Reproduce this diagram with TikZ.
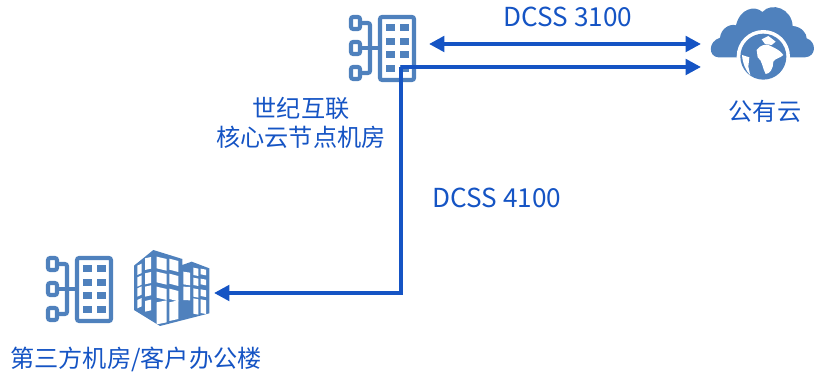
\documentclass[tikz,border=0pt]{standalone}
\usepackage{fontspec}
\usetikzlibrary{arrows.meta}
\setmainfont{Noto Sans CJK SC}
\definecolor{iconblue}{RGB}{79,129,189}
\definecolor{linkblue}{RGB}{21,84,196}
\newcommand{\winbox}[5]{\fill[white] (#1,#3) -- (#2,#3+#5) -- (#2,#4+#5) -- (#1,#4) -- cycle;}
\tikzset{
	lbl/.style={text=linkblue,font=\fontsize{17.2}{21}\selectfont,align=center,inner sep=0pt},
	lbllat/.style={lbl,font=\fontsize{18.6}{21}\selectfont},
	tip/.tip={Triangle[length=11pt,width=11pt]},
	link/.style={draw=linkblue,line width=2.7pt},
	rackline/.style={draw=iconblue,line width=2.9pt,rounded corners=1.5pt},
	pics/rack/.style={code={
		\draw[rackline] (31,2) rectangle (65,65);
		\foreach \y in {0,1,2,3} \foreach \x in {37,51} {
			\fill[iconblue] (\x,{9+13.6*\y}) rectangle ++(8.5,7);
		}
		\foreach \y in {2,27,52} \draw[rackline] (2,\y) rectangle (11,{\y+12});
		\draw[rackline] (11,8) -- (21,8) -- (21,58) -- (11,58);
		\draw[rackline] (11,33) -- (31,33);
	}}
}
\begin{document}
\begin{tikzpicture}[x=0.025cm,y=-0.025cm]
	\useasboundingbox (0,0) rectangle (815,372);
	\pic at (349,15) {rack};
	\pic at (46,256) {rack};
	% building
	\begin{scope}[shift={(130,245)},x=0.00833cm,y=-0.00833cm]
		\fill[iconblue] (12,62) -- (70,15) -- (157,42) -- (157,60) -- (185,50) -- (238,70) -- (238,205) -- (90,243) -- (12,195) -- cycle;
		\foreach \ya/\yb/\yc/\yd in {62/90/40/75,97/125/85/118,130/155/125/155,165/190/168/200} {
			\winbox{22}{35}{\ya}{\yb}{-6}
			\winbox{45}{63}{\yc}{\yd}{-4}
		}
		\foreach \ya/\yb in {35/70,80/112,125/158} {
			\winbox{80}{110}{\ya}{\yb}{7}
			\winbox{118}{145}{\ya+6}{\yb+4}{7}
		}
		\winbox{80}{110}{172}{238}{-6}
		\winbox{118}{145}{172}{228}{-6}
		\winbox{160}{180}{80}{118}{3}
		\winbox{160}{180}{125}{165}{1}
		\foreach \ya/\yb in {68/90,98/120,130/155,160/206} {
			\winbox{190}{205}{\ya}{\yb}{3}
			\winbox{212}{228}{\ya+3}{\yb-2}{3}
		}
	\end{scope}
	% cloud
	\begin{scope}[shift={(705,0)},x=0.00833cm,y=-0.00833cm]
		\fill[iconblue] (40,172) .. controls (10,170) and (8,125) .. (45,113) .. controls (48,85) and (75,70) .. (93,76) .. controls (105,25) and (150,15) .. (172,36) .. controls (200,5) and (260,25) .. (263,78) .. controls (290,80) and (305,100) .. (305,115) .. controls (335,125) and (335,170) .. (300,172) -- cycle;
		\fill[white] (175,170) circle (80);
		\fill[iconblue] (175,170) circle (69);
		\fill[white] (155,150) .. controls (165,135) and (185,130) .. (195,137) .. controls (210,145) and (225,150) .. (235,165) .. controls (225,175) and (210,175) .. (205,185) .. controls (205,205) and (195,222) .. (182,222) .. controls (172,205) and (172,180) .. (158,172) -- cycle;
		\fill[white] (170,118) -- (190,108) -- (212,125) -- (200,135) -- (180,132) -- cycle;
		\fill[white] (111,165) -- (133,172) -- (130,200) -- (136,226) .. controls (122,212) and (113,190) .. (111,165) -- cycle;
	\end{scope}
	% labels
	\node[lbl] (core) at (301,123) {世纪互联\\核心云节点机房};
	\node[lbl] (cloud) at (765,111) {公有云};
	\node[lbl] (site) at (136,359) {第三方机房/客户办公楼};
	\node[lbllat] (dcss3) at (568,17) {DCSS 3100};
	\node[lbllat] (dcss4) at (497,198) {DCSS 4100};
	% connectors
	\coordinate (coreR) at (401,67);
	\coordinate (cloudT) at (701,44);
	\coordinate (cloudB) at (701,67);
	\coordinate (coreT) at (429,44);
	\coordinate (corner) at (401,293);
	\coordinate (siteR) at (214,293);
	\draw[link,tip-tip] (coreT) -- (cloudT);
	\draw[link,-tip] (coreR) -- (cloudB);
	\draw[link,-tip] (coreR) -- (corner) -- (siteR);
\end{tikzpicture}
\end{document}
